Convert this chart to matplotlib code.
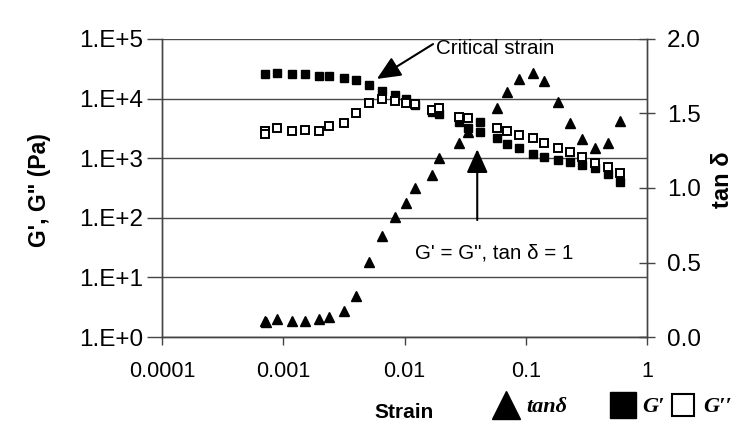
import matplotlib
matplotlib.use("Agg")
import matplotlib.pyplot as plt
from matplotlib.lines import Line2D

plt.rcParams['font.family'] = ['Liberation Sans', 'DejaVu Sans']

# ---- data ----
strain_gp = [0.000707, 0.000883, 0.001174, 0.00151, 0.00197, 0.00238, 0.0032, 0.00398,
             0.00514, 0.00649, 0.0083, 0.01028, 0.0121, 0.01675, 0.01937, 0.0283, 0.0336,
             0.042, 0.042, 0.0575, 0.0697, 0.0875, 0.1148, 0.1416, 0.183, 0.232, 0.289,
             0.372, 0.480, 0.603]
g_prime = [25600, 27200, 25600, 25600, 23900, 23900, 22400, 20500,
           16900, 13400, 11500, 9850, 7810, 5960, 5450, 4100, 3180,
           4050, 2750, 2160, 1730, 1470, 1176, 1035, 933, 874, 769,
           677, 543, 403]

strain_gpp = [0.000707, 0.000707, 0.000883, 0.001174, 0.00151, 0.00197, 0.00238, 0.0032,
              0.00398, 0.00514, 0.00649, 0.0083, 0.01028, 0.0121, 0.01675, 0.01937, 0.0283,
              0.0336, 0.0575, 0.0697, 0.0875, 0.1148, 0.1416, 0.183, 0.232, 0.289,
              0.372, 0.480, 0.603]
g_dprime = [2860, 2550, 3250, 2860, 2970, 2860, 3470, 3850,
            5670, 8530, 9730, 9120, 8340, 8120, 6440, 6880, 4970,
            4670, 3180, 2860, 2450, 2160, 1820, 1500, 1285, 1036,
            821, 720, 558]

strain_tan = [0.000707, 0.000720, 0.000883, 0.001174, 0.00151, 0.00197, 0.00238, 0.0032,
              0.00398, 0.00514, 0.00649, 0.0083, 0.01028, 0.0121, 0.01675, 0.01937, 0.0283,
              0.0336, 0.0575, 0.0697, 0.0875, 0.1148, 0.1416, 0.183, 0.232, 0.289,
              0.372, 0.480, 0.603]
tan_delta = [0.107, 0.100, 0.124, 0.109, 0.109, 0.124, 0.136, 0.174,
             0.275, 0.503, 0.680, 0.807, 0.899, 0.998, 1.089, 1.203, 1.304,
             1.378, 1.535, 1.646, 1.733, 1.774, 1.718, 1.579, 1.434, 1.327,
             1.266, 1.304, 1.452]

x_ticks = [0.0001, 0.001, 0.01, 0.1, 1]
x_labels = ["0.0001", "0.001", "0.01", "0.1", "1"]
g_ticks = [1, 10, 100, 1000, 10000, 100000]
g_labels = ["1.E+0", "1.E+1", "1.E+2", "1.E+3", "1.E+4", "1.E+5"]
tan_ticks = [0.0, 0.5, 1.0, 1.5, 2.0]
tan_labels = ["0.0", "0.5", "1.0", "1.5", "2.0"]
legend_labels = ["tanδ", "G′", "G′′"]

# ---- figure ----
W, H = 752, 437
fig = plt.figure(figsize=(W/100, H/100), dpi=100)
ax = fig.add_axes([162/W, 1-337/H, 485/W, 298/H])
ax2 = ax.twinx()

spine_c = '#444444'
grid_c = '#4a4a4a'

ax.set_xscale('log')
ax.set_yscale('log')
ax.set_xlim(1e-4, 1)
ax.set_ylim(1, 1e5)
ax.set_xticks(x_ticks)
ax.set_xticklabels(x_labels, fontsize=15.5)
ax.set_yticks(g_ticks)
ax.set_yticklabels(g_labels, fontsize=17.5)
ax.minorticks_off()
ax.yaxis.grid(True, color=grid_c, linewidth=1.0)
ax.set_axisbelow(True)
ax.tick_params(axis='x', direction='out', length=6, width=1, color=spine_c, pad=11)
ax.tick_params(axis='y', direction='out', length=10.5, width=1, color=spine_c, pad=3)

ax2.set_ylim(0, 2.0)
ax2.set_yticks(tan_ticks)
ax2.set_yticklabels(tan_labels, fontsize=17.5)
ax2.tick_params(axis='y', direction='inout', length=11, width=1, color=spine_c, pad=9)

for a in (ax, ax2):
    a.spines['top'].set_visible(False)
    for s in ('left', 'right', 'bottom'):
        a.spines[s].set_color(spine_c)
        a.spines[s].set_linewidth(1.0)

ax.plot(strain_gp, g_prime, linestyle='none', marker='s', markersize=6.3,
        markerfacecolor='black', markeredgecolor='black', zorder=3)
ax.plot(strain_gpp, g_dprime, linestyle='none', marker='s', markersize=5.6,
        markerfacecolor='white', markeredgecolor='black', markeredgewidth=1.4, zorder=4)
ax2.plot(strain_tan, tan_delta, linestyle='none', marker='^', markersize=7.5,
         markerfacecolor='black', markeredgecolor='black', zorder=3)

ax.set_ylabel("G', G\" (Pa)", fontsize=16.5, fontweight='bold')
ax.yaxis.set_label_coords(-0.228, 0.493)
ax.set_xlabel("Strain", fontsize=15, fontweight='bold')
ax.xaxis.set_label_coords(0.499, -0.222)
ax2.set_ylabel("tan δ", fontsize=17, fontweight='bold')
ax2.yaxis.set_label_coords(1.132, 0.527)

# annotations
arrow_kw = dict(arrowstyle="-|>,head_length=1.0,head_width=0.45", mutation_scale=14.5,
                color='black', linewidth=1.5, shrinkA=0, shrinkB=0)
ax2.annotate("", xy=(0.00592, 1.732), xytext=(0.0172, 1.966), arrowprops=arrow_kw, zorder=6)
ax2.text(0.0182, 1.933, "Critical strain", fontsize=14.8, ha='left', va='center')
ax2.annotate("", xy=(0.0398, 1.26), xytext=(0.0398, 0.785), arrowprops=arrow_kw, zorder=6)
ax2.text(0.0122, 0.564, "G' = G\", tan δ = 1", fontsize=14.8, ha='left', va='center')

# legend (three separate entries placed like the reference)
handles = [
    Line2D([], [], linestyle='none', marker='^', markersize=20, markerfacecolor='black',
           markeredgecolor='black'),
    Line2D([], [], linestyle='none', marker='s', markersize=18.5, markerfacecolor='black',
           markeredgecolor='black'),
    Line2D([], [], linestyle='none', marker='s', markersize=15.5, markerfacecolor='white',
           markeredgecolor='black', markeredgewidth=1.5),
]
left_px = [494, 611, 671]
pads = [0.35, 0.3, 0.35]
for h, lab, lp, tp in zip(handles, legend_labels, left_px, pads):
    fig.legend([h], [lab], loc='center left', bbox_to_anchor=(lp/W, 1-407/H),
               frameon=False, borderpad=0, borderaxespad=0, handletextpad=tp,
               handlelength=1.1,
               prop=dict(family=['Liberation Serif', 'DejaVu Serif'], style='italic',
                         weight='bold', size=16))

fig.savefig("out.png", dpi=100)
